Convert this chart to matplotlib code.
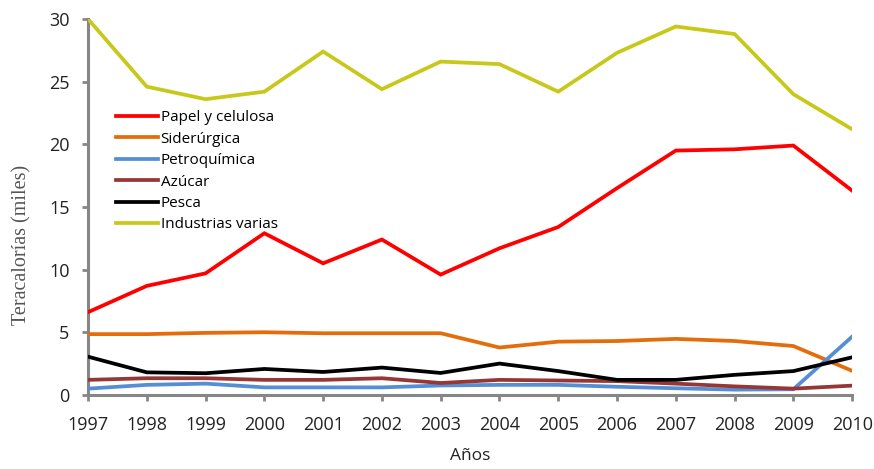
import matplotlib
matplotlib.use('Agg')
import matplotlib.pyplot as plt

years = list(range(1997, 2011))

papel = [6.6, 8.7, 9.7, 12.9, 10.5, 12.4, 9.6, 11.7, 13.4, 16.5, 19.5, 19.6, 19.9, 16.3]
siderurgica = [4.85, 4.85, 4.95, 5.0, 4.92, 4.92, 4.92, 3.78, 4.25, 4.3, 4.47, 4.3, 3.9, 1.92]
petroquimica = [0.5, 0.8, 0.9, 0.6, 0.6, 0.6, 0.75, 0.8, 0.8, 0.65, 0.53, 0.42, 0.45, 4.65]
azucar = [1.2, 1.33, 1.33, 1.2, 1.2, 1.33, 0.95, 1.2, 1.15, 1.1, 0.9, 0.68, 0.5, 0.74]
pesca = [3.05, 1.8, 1.73, 2.07, 1.83, 2.18, 1.75, 2.5, 1.9, 1.2, 1.2, 1.6, 1.9, 3.0]
industrias = [30.0, 24.6, 23.6, 24.2, 27.4, 24.4, 26.6, 26.4, 24.2, 27.3, 29.4, 28.8, 24.0, 21.2]

series = [
    ('Papel y celulosa', papel, '#FF0000'),
    ('Siderúrgica', siderurgica, '#E46C0A'),
    ('Petroquímica', petroquimica, '#558ED5'),
    ('Azúcar', azucar, '#953735'),
    ('Pesca', pesca, '#000000'),
    ('Industrias varias', industrias, '#C8C81A'),
]

plt.rcParams['font.family'] = ['Open Sans', 'DejaVu Sans']

fig = plt.figure(figsize=(8.74, 4.69), dpi=100)
ax = fig.add_axes([0.1007, 0.158, 0.8743, 0.8015])

for name, vals, col in series:
    ax.plot(years, vals, color=col, linewidth=2.7, label=name,
            solid_joinstyle='miter')

ax.set_xlim(1997, 2010)
ax.set_ylim(0, 30)
ax.set_xticks(years)
ax.set_yticks(range(0, 31, 5))

# gray axis lines with outward ticks
gray = '#868686'
for side in ('top', 'right'):
    ax.spines[side].set_visible(False)
for side in ('left', 'bottom'):
    ax.spines[side].set_color(gray)
    ax.spines[side].set_linewidth(2.2)
    ax.spines[side].set_zorder(0)
ax.tick_params(axis='both', direction='out', length=4.3, width=2, color=gray,
               labelsize=13, labelcolor='#222222')
ax.tick_params(axis='x', pad=11)
ax.tick_params(axis='y', pad=9)

ax.set_xlabel('Años', fontsize=12.5, color='#222222', va='top')
ax.xaxis.set_label_coords(0.5, -0.14)
ax.set_ylabel('Teracalorías (miles)', fontsize=14.5, color='#555555',
              family='Liberation Serif', va='center')
ax.yaxis.set_label_coords(-0.086, 0.40)

ax.legend(loc='upper left', bbox_to_anchor=(0.037, 0.757), frameon=False,
          fontsize=11, handlelength=2.7, handletextpad=0.2,
          labelspacing=0.42, borderaxespad=0, borderpad=0)

fig.savefig('out.png', dpi=100)
